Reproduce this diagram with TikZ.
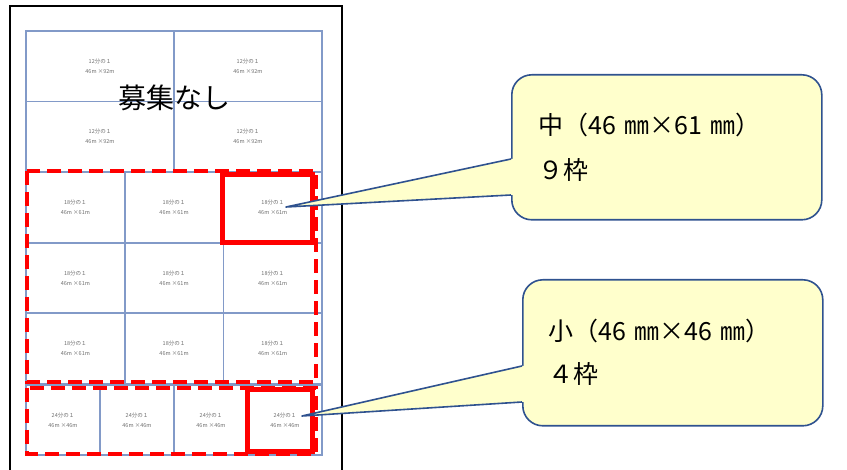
\documentclass[tikz,border=0pt]{standalone}
\usepackage{fontspec}
\setmainfont{Noto Sans CJK JP}
\usepackage{xcolor}
\usetikzlibrary{positioning,calc}
\definecolor{gridblue}{RGB}{130,154,200}
\definecolor{calloutfill}{RGB}{255,255,204}
\definecolor{calloutline}{RGB}{47,82,143}
\definecolor{celltext}{RGB}{110,110,110}
\tikzset{
  cell/.style    ={draw=gridblue, line width=1.8pt, align=center, inner sep=0pt,
                   text=celltext, font=\fontsize{5.5}{10}\selectfont},
  redbox/.style  ={draw=red, line width=5pt},
  reddash/.style ={draw=red, line width=4.5pt, dash pattern=on 14pt off 7pt},
  callout/.style ={draw=calloutline, line width=1.6pt, fill=calloutfill, rounded corners=20pt,
                   anchor=north west, align=left, font=\fontsize{25}{45}\selectfont},
  pointer/.style ={draw=calloutline, line width=1.6pt, line join=round}
}

\begin{document}
\begin{tikzpicture}[x=1pt, y=-1pt]
    \useasboundingbox (0,0) rectangle (847,470);
    % page outline
    \coordinate (pgBL) at (10,470);
    \coordinate (pgTR) at (342,6);
    \draw[line width=1.5pt] (pgBL) |- (pgTR) -- (pgTR |- pgBL);
    % 12 cells (2 x 2)
    \foreach \r in {0,1}
      \foreach \c in {0,1}
        \node[cell, minimum width=148pt, minimum height=70.5pt] (big\r\c)
          at ({100+148*\c},{66.25+70.5*\r}) {12分の１\\46m ×92m};
    % 18 cells (3 x 3)
    \foreach \r in {0,1,2}
      \foreach \c in {0,1,2}
        \node[cell, minimum width=98.7pt, minimum height=70.7pt] (mid\r\c)
          at ({75.35+98.7*\c},{207.35+70.7*\r}) {18分の１\\46m ×61m};
    % 24 cells (4 x 1)
    \foreach \c in {0,1,2,3}
      \node[cell, minimum width=74pt, minimum height=70pt] (sml\c)
        at ({63+74*\c},420) {24分の１\\46m ×46m};
    % label over the 12 cells
    \node[font=\fontsize{28}{28}\selectfont] (none) at (174,98) {募集なし};
    % red frames
    \draw[reddash] (27,171) rectangle (316,382);
    \draw[reddash] (27,388) rectangle (316,454);
    \draw[redbox] (222,175) rectangle (312,243);
    \draw[redbox] (247,390) rectangle (312,452);
    % callout: middle size
    \node[callout, minimum width=310pt, minimum height=145pt, inner xsep=27pt, text width=256pt]
      (callM) at (511,74) {中（46 ㎜×61 ㎜）\\９枠};
    \coordinate (tipM) at (286,207);
    \coordinate (baseM1) at (511,159);
    \coordinate (baseM2) at (511,195);
    \fill[calloutfill] (baseM1) -- (tipM) -- (baseM2) -- ++(4,0) -- ($(baseM1)+(4,0)$) -- cycle;
    \draw[pointer] (baseM1) -- (tipM) -- (baseM2);
    % callout: small size
    \node[callout, minimum width=300pt, minimum height=146pt, inner xsep=26pt, text width=248pt,
          font=\fontsize{25}{43}\selectfont]
      (callS) at (522,279) {小（46 ㎜×46 ㎜）\\４枠};
    \coordinate (tipS) at (302,416);
    \coordinate (baseS1) at (522,366);
    \coordinate (baseS2) at (522,402);
    \fill[calloutfill] (baseS1) -- (tipS) -- (baseS2) -- ++(4,0) -- ($(baseS1)+(4,0)$) -- cycle;
    \draw[pointer] (baseS1) -- (tipS) -- (baseS2);
\end{tikzpicture}
\end{document}
